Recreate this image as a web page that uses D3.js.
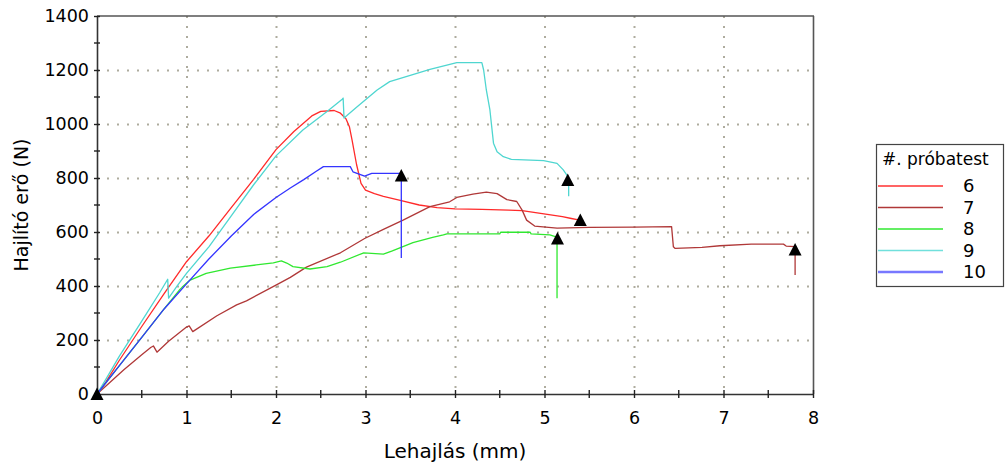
<!DOCTYPE html>
<html>
<head>
<meta charset="utf-8">
<script src="https://cdn.jsdelivr.net/npm/d3@7"></script>
<style>
  html, body { margin: 0; padding: 0; background: #fff; }
  svg { display: block; }
  text { font-family: "DejaVu Sans", Verdana, sans-serif; fill: #000; }
</style>
</head>
<body>
<svg id="chart" width="1005" height="465"></svg>
<script>
// ---- data (deflection mm, force N) ----
const seriesNames = ["6", "7", "8", "9", "10"];
const seriesColors = ["#ff2a2a", "#b03838", "#30e830", "#4fd6d0", "#3434ff"];
const legendColors = ["#ff3030", "#b03838", "#30e830", "#70e0dc", "#7878ff"];

const s6 = [[0,0],[0.1,45],[0.25,125],[0.5,250],[0.75,372],[1.0,490],[1.25,585],[1.5,690],[1.75,795],[2.0,905],[2.2,972],[2.4,1030],[2.5,1047],[2.65,1050],[2.72,1040],[2.78,1020],[2.82,990],[2.85,940],[2.9,850],[2.95,780],[3.0,755],[3.1,742],[3.2,732],[3.4,716],[3.6,700],[3.8,690],[4.0,686],[4.3,684],[4.6,681],[4.75,679],[4.9,672],[5.05,664],[5.2,657],[5.3,650],[5.38,645]];
const s7 = [[0,0],[0.1,30],[0.3,90],[0.5,145],[0.6,172],[0.63,178],[0.67,155],[0.8,195],[1.0,248],[1.03,252],[1.07,231],[1.34,290],[1.56,330],[1.67,345],[2.01,405],[2.16,432],[2.34,470],[2.72,523],[2.99,576],[3.2,610],[3.42,644],[3.72,694],[3.94,712],[4.02,728],[4.2,740],[4.35,748],[4.47,742],[4.58,720],[4.69,713],[4.75,681],[4.80,644],[4.89,622],[5.14,614],[5.5,617],[6.0,618],[6.42,620],[6.44,545],[6.46,539],[6.76,543],[6.96,549],[7.31,555],[7.67,555],[7.70,548],[7.80,546],[7.80,441]];
const s8 = [[0,0],[0.25,105],[0.5,210],[0.75,315],[0.92,385],[0.95,395],[1.04,422],[1.22,447],[1.49,466],[1.78,478],[1.97,486],[2.06,493],[2.12,485],[2.19,472],[2.38,463],[2.57,472],[2.72,488],[2.98,523],[3.2,518],[3.3,530],[3.53,561],[3.75,580],[3.87,589],[3.91,593],[4.5,593],[4.51,599],[4.84,599],[4.85,593],[5.06,589],[5.12,583],[5.14,578],[5.14,355]];
const s9 = [[0,0],[0.1,55],[0.25,140],[0.5,270],[0.7,375],[0.79,425],[0.8,355],[0.9,402],[1.0,447],[1.25,545],[1.5,660],[1.75,775],[2.0,882],[2.3,978],[2.57,1046],[2.74,1092],[2.75,1096],[2.76,1022],[2.9,1062],[3.0,1090],[3.13,1126],[3.27,1157],[3.5,1180],[3.72,1202],[4.02,1227],[4.30,1227],[4.32,1200],[4.35,1126],[4.39,1052],[4.43,929],[4.47,897],[4.54,879],[4.63,869],[4.99,864],[5.14,854],[5.21,830],[5.25,811],[5.27,795],[5.27,732]];
const s10 = [[0,0],[0.25,105],[0.5,210],[0.75,315],[1.0,408],[1.25,500],[1.5,585],[1.75,665],[2.0,728],[2.16,763],[2.31,794],[2.45,825],[2.53,842],[2.83,842],[2.86,823],[2.99,807],[3.07,817],[3.39,817],[3.40,817],[3.40,504]];
const seriesData = [s6, s7, s8, s9, s10];

// failure / start markers
const markers = [[0,0],[3.40,809],[5.26,793],[5.40,644],[5.145,576],[7.80,535]];

const xTicks = [0,1,2,3,4,5,6,7,8];
const xMinor = [0.5,1.5,2.5,3.5,4.5,5.5,6.5,7.5];
const yTicks = [0,200,400,600,800,1000,1200,1400];
const yMinor = [100,300,500,700,900,1100,1300];

const xTitle = "Lehajlás (mm)";
const yTitle = "Hajlító erő (N)";
const legendTitle = "#. próbatest";

// ---- layout ----
const pL = 97, pR = 813, pT = 16, pB = 394;
const svg = d3.select("#chart");
const x = d3.scaleLinear().domain([0, 8]).range([pL, pR]);
const y = d3.scaleLinear().domain([0, 1400]).range([pB, pT]);

// grid
const grid = svg.append("g");
grid.selectAll("line.gx").data(xTicks.slice(1, -1)).join("line")
  .attr("x1", d => x(d) + 0.5).attr("x2", d => x(d) + 0.5)
  .attr("y1", pT).attr("y2", pB)
  .attr("stroke", "#aeac9e").attr("stroke-width", 2)
  .attr("stroke-dasharray", "2,8");
grid.selectAll("line.gy").data(yTicks.slice(1, -1)).join("line")
  .attr("x1", pL).attr("x2", pR)
  .attr("y1", d => y(d) + 0.5).attr("y2", d => y(d) + 0.5)
  .attr("stroke", "#aeac9e").attr("stroke-width", 2)
  .attr("stroke-dasharray", "2,8");

// frame top/right
svg.append("line").attr("x1", pL).attr("x2", pR + 1).attr("y1", pT).attr("y2", pT)
  .attr("stroke", "#555").attr("stroke-width", 1.6);
svg.append("line").attr("x1", pR + 0.5).attr("x2", pR + 0.5).attr("y1", pT).attr("y2", pB)
  .attr("stroke", "#555").attr("stroke-width", 1.6);

// series
const line = d3.line().x(d => x(d[0])).y(d => y(d[1]));
svg.append("g").selectAll("path").data(seriesData).join("path")
  .attr("d", line)
  .attr("fill", "none")
  .attr("stroke", (d, i) => seriesColors[i])
  .attr("stroke-width", 1.3)
  .attr("stroke-linejoin", "round");

// axes
const xAxis = d3.axisBottom(x).tickValues(xTicks).tickSizeInner(4).tickSizeOuter(0).tickPadding(14)
  .tickFormat(d3.format("d"));
const gx = svg.append("g").attr("transform", `translate(0,${pB})`).call(xAxis);
gx.select(".domain").attr("stroke", "#333").attr("stroke-width", 1.6);
gx.selectAll(".tick line").attr("y1", -4).attr("stroke", "#222").attr("stroke-width", 1.4);
gx.selectAll(".tick text").attr("font-size", 17.5).attr("font-family", "DejaVu Sans");
gx.selectAll("line.minor").data(xMinor).join("line").attr("class", "minor")
  .attr("x1", d => x(d)).attr("x2", d => x(d)).attr("y1", -4).attr("y2", 4)
  .attr("stroke", "#222").attr("stroke-width", 1.4);

const yAxis = d3.axisLeft(y).tickValues(yTicks).tickSizeInner(3).tickSizeOuter(0).tickPadding(5)
  .tickFormat(d3.format("d"));
const gy = svg.append("g").attr("transform", `translate(${pL},0)`).call(yAxis);
gy.select(".domain").attr("stroke", "#333").attr("stroke-width", 1.6);
gy.selectAll(".tick line").attr("x2", -3).attr("x1", 3).attr("stroke", "#222").attr("stroke-width", 1.4);
gy.selectAll(".tick text").attr("font-size", 17.5).attr("font-family", "DejaVu Sans");
gy.selectAll("line.minor").data(yMinor).join("line").attr("class", "minor")
  .attr("y1", d => y(d)).attr("y2", d => y(d)).attr("x1", -3).attr("x2", 3)
  .attr("stroke", "#222").attr("stroke-width", 1.4);

// markers
const tri = (cx, cy) => `M${cx},${cy - 6.5}L${cx + 6.5},${cy + 6}L${cx - 6.5},${cy + 6}Z`;
svg.append("g").selectAll("path").data(markers).join("path")
  .attr("d", d => tri(x(d[0]), y(d[1])))
  .attr("fill", "#000");

// axis titles
svg.append("text").attr("x", 455).attr("y", 458).attr("text-anchor", "middle")
  .attr("font-size", 20).text(xTitle);
svg.append("text").attr("transform", "translate(28,205) rotate(-90)").attr("text-anchor", "middle")
  .attr("font-size", 19).text(yTitle);

// legend
const lg = svg.append("g");
lg.append("rect").attr("x", 876.5).attr("y", 144.5).attr("width", 127).attr("height", 142)
  .attr("fill", "#fff").attr("stroke", "#444").attr("stroke-width", 1.2);
lg.append("text").attr("x", 882).attr("y", 165).attr("font-size", 17).text(legendTitle);
const rowY = d3.scalePoint().domain(seriesNames).range([186, 272]);
seriesNames.forEach((n, i) => {
  lg.append("line").attr("x1", 878).attr("x2", 943).attr("y1", rowY(n)).attr("y2", rowY(n))
    .attr("stroke", legendColors[i]).attr("stroke-width", i === 4 ? 2.4 : 1.4);
  lg.append("text").attr("x", 963).attr("y", rowY(n)).attr("dy", "0.36em")
    .attr("font-size", 18).text(n);
});
</script>
</body>
</html>
